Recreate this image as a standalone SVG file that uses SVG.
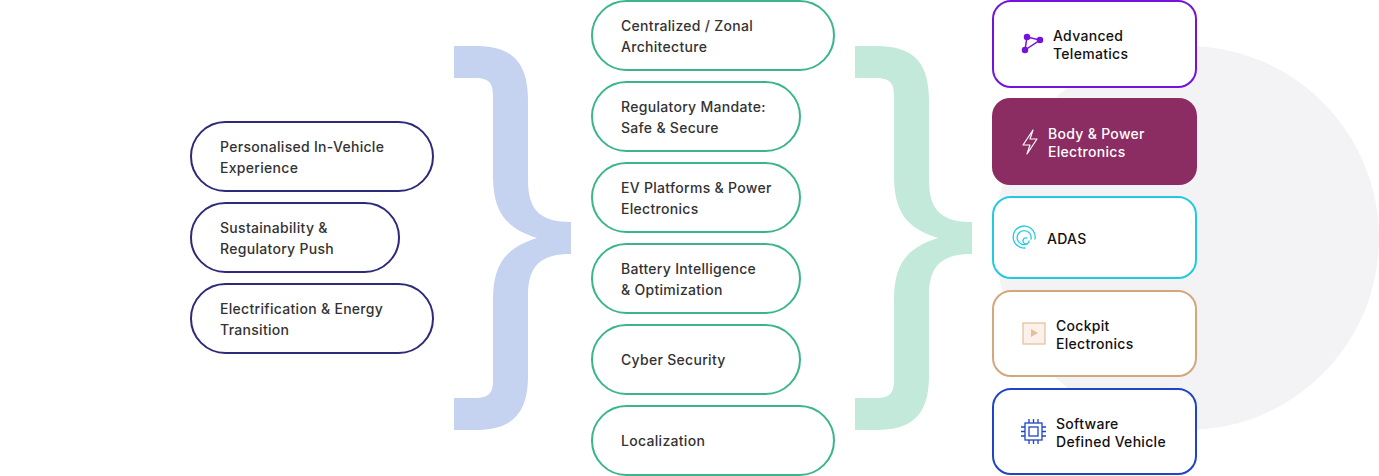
<svg xmlns="http://www.w3.org/2000/svg" width="1379" height="476" viewBox="0 0 1379 476">
<style>
text{font-family:"Inter","Liberation Sans",sans-serif;font-size:14px;font-weight:500;fill:#333;letter-spacing:0.3px}
.l{fill:#fff;stroke:#2d2a7a;stroke-width:2}
.m{fill:#fff;stroke:#3bb58c;stroke-width:2}
.r{stroke-width:2}
.rt{fill:#111}
</style>
<defs>
<path id="brace" d="M454,46 L475,46 C510,46 528,60 528,100 L528,180 C528,210 540,222 571,222 L571,254 C540,254 528,266 528,296 L528,376 C528,416 510,430 475,430 L454,430 L454,398 L475,398 C490,398 493,392 493,380 L493,300 C493,265 505,248 537,238 C505,228 493,211 493,176 L493,96 C493,84 490,78 475,78 L454,78 Z"/>
</defs>
<circle cx="1187" cy="238" r="192" fill="#f3f3f5"/>
<g id="connectors">
<use href="#brace" fill="#c5d3f1"/>
<use href="#brace" fill="#c3e9db" transform="translate(401,0)"/>
</g>
<g id="l1"><rect class="l" x="191" y="122" width="242" height="69" rx="34.5"/><text x="220" y="152">Personalised In-Vehicle</text><text x="220" y="173">Experience</text></g>
<g id="l2"><rect class="l" x="191" y="203" width="208" height="69" rx="34.5"/><text x="220" y="233">Sustainability &amp;</text><text x="220" y="254">Regulatory Push</text></g>
<g id="l3"><rect class="l" x="191" y="284" width="242" height="69" rx="34.5"/><text x="220" y="314">Electrification &amp; Energy</text><text x="220" y="335">Transition</text></g>
<g id="m1"><rect class="m" x="592" y="1" width="242" height="69" rx="34.5"/><text x="621" y="31">Centralized / Zonal</text><text x="621" y="52">Architecture</text></g>
<g id="m2"><rect class="m" x="592" y="82" width="208" height="69" rx="34.5"/><text x="621" y="112">Regulatory Mandate:</text><text x="621" y="133">Safe &amp; Secure</text></g>
<g id="m3"><rect class="m" x="592" y="163" width="208" height="69" rx="34.5"/><text x="621" y="193">EV Platforms &amp; Power</text><text x="621" y="214">Electronics</text></g>
<g id="m4"><rect class="m" x="592" y="244" width="208" height="69" rx="34.5"/><text x="621" y="274">Battery Intelligence</text><text x="621" y="295">&amp; Optimization</text></g>
<g id="m5"><rect class="m" x="592" y="325" width="208" height="69" rx="34.5"/><text x="621" y="365">Cyber Security</text></g>
<g id="m6"><rect class="m" x="592" y="406" width="242" height="69" rx="34.5"/><text x="621" y="446">Localization</text></g>
<g id="r1"><rect class="r" x="993" y="1" width="203" height="86" rx="18" fill="#fff" stroke="#7413dc"/>
<g stroke="#7413dc" stroke-width="1.5" fill="#7413dc"><path d="M1027,37 L1040,40 L1025,50 Z" fill="none"/><circle cx="1027" cy="37" r="2.5"/><circle cx="1040" cy="40" r="2.5"/><circle cx="1025" cy="50" r="2.5"/></g>
<text class="rt" x="1053" y="41">Advanced</text><text class="rt" x="1053" y="59">Telematics</text></g>
<g id="r2"><rect x="992" y="98" width="205" height="87" rx="18" fill="#8b2c62"/>
<path d="M1033,130 L1023,145 L1030,145 L1027,154 L1037,139 L1030,139 Z" fill="none" stroke="#fff" stroke-width="1.2" stroke-linejoin="round"/>
<text x="1048" y="139" style="fill:#fff">Body &amp; Power</text><text x="1048" y="157" style="fill:#fff">Electronics</text></g>
<g id="r3"><rect class="r" x="993" y="197" width="203" height="81" rx="18" fill="#fff" stroke="#22cadf"/>
<g fill="none" stroke="#22cadf" stroke-width="1.3" stroke-linecap="round"><path d="M1025,248 A11,11 0 1 1 1035,239"/><path d="M1027,244 A7,7 0 1 1 1031,239"/><path d="M1029,241 A3,3 0 1 1 1027,238"/></g>
<text class="rt" x="1047" y="244">ADAS</text></g>
<g id="r4"><rect class="r" x="993" y="291" width="203" height="85" rx="18" fill="#fff" stroke="#d4a77a"/>
<rect x="1023" y="323" width="22" height="21" fill="#fbf1e8" stroke="#e3bf9c" stroke-width="1.2"/><path d="M1031,329 L1038,333 L1031,337 Z" fill="#e3bf9c"/>
<text class="rt" x="1056" y="331">Cockpit</text><text class="rt" x="1056" y="349">Electronics</text></g>
<g id="r5"><rect class="r" x="993" y="389" width="203" height="85" rx="18" fill="#fff" stroke="#1f45c6"/>
<g fill="none" stroke="#1f45c6" stroke-width="1.3"><rect x="1025" y="423" width="17" height="17"/><rect x="1029" y="427" width="9" height="9"/><path d="M1029,419v4M1033.5,419v4M1038,419v4M1029,440v4M1033.5,440v4M1038,440v4M1021,427h4M1021,431.5h4M1021,436h4M1042,427h4M1042,431.5h4M1042,436h4"/></g>
<text class="rt" x="1056" y="429">Software</text><text class="rt" x="1056" y="447">Defined Vehicle</text></g>
</svg>
